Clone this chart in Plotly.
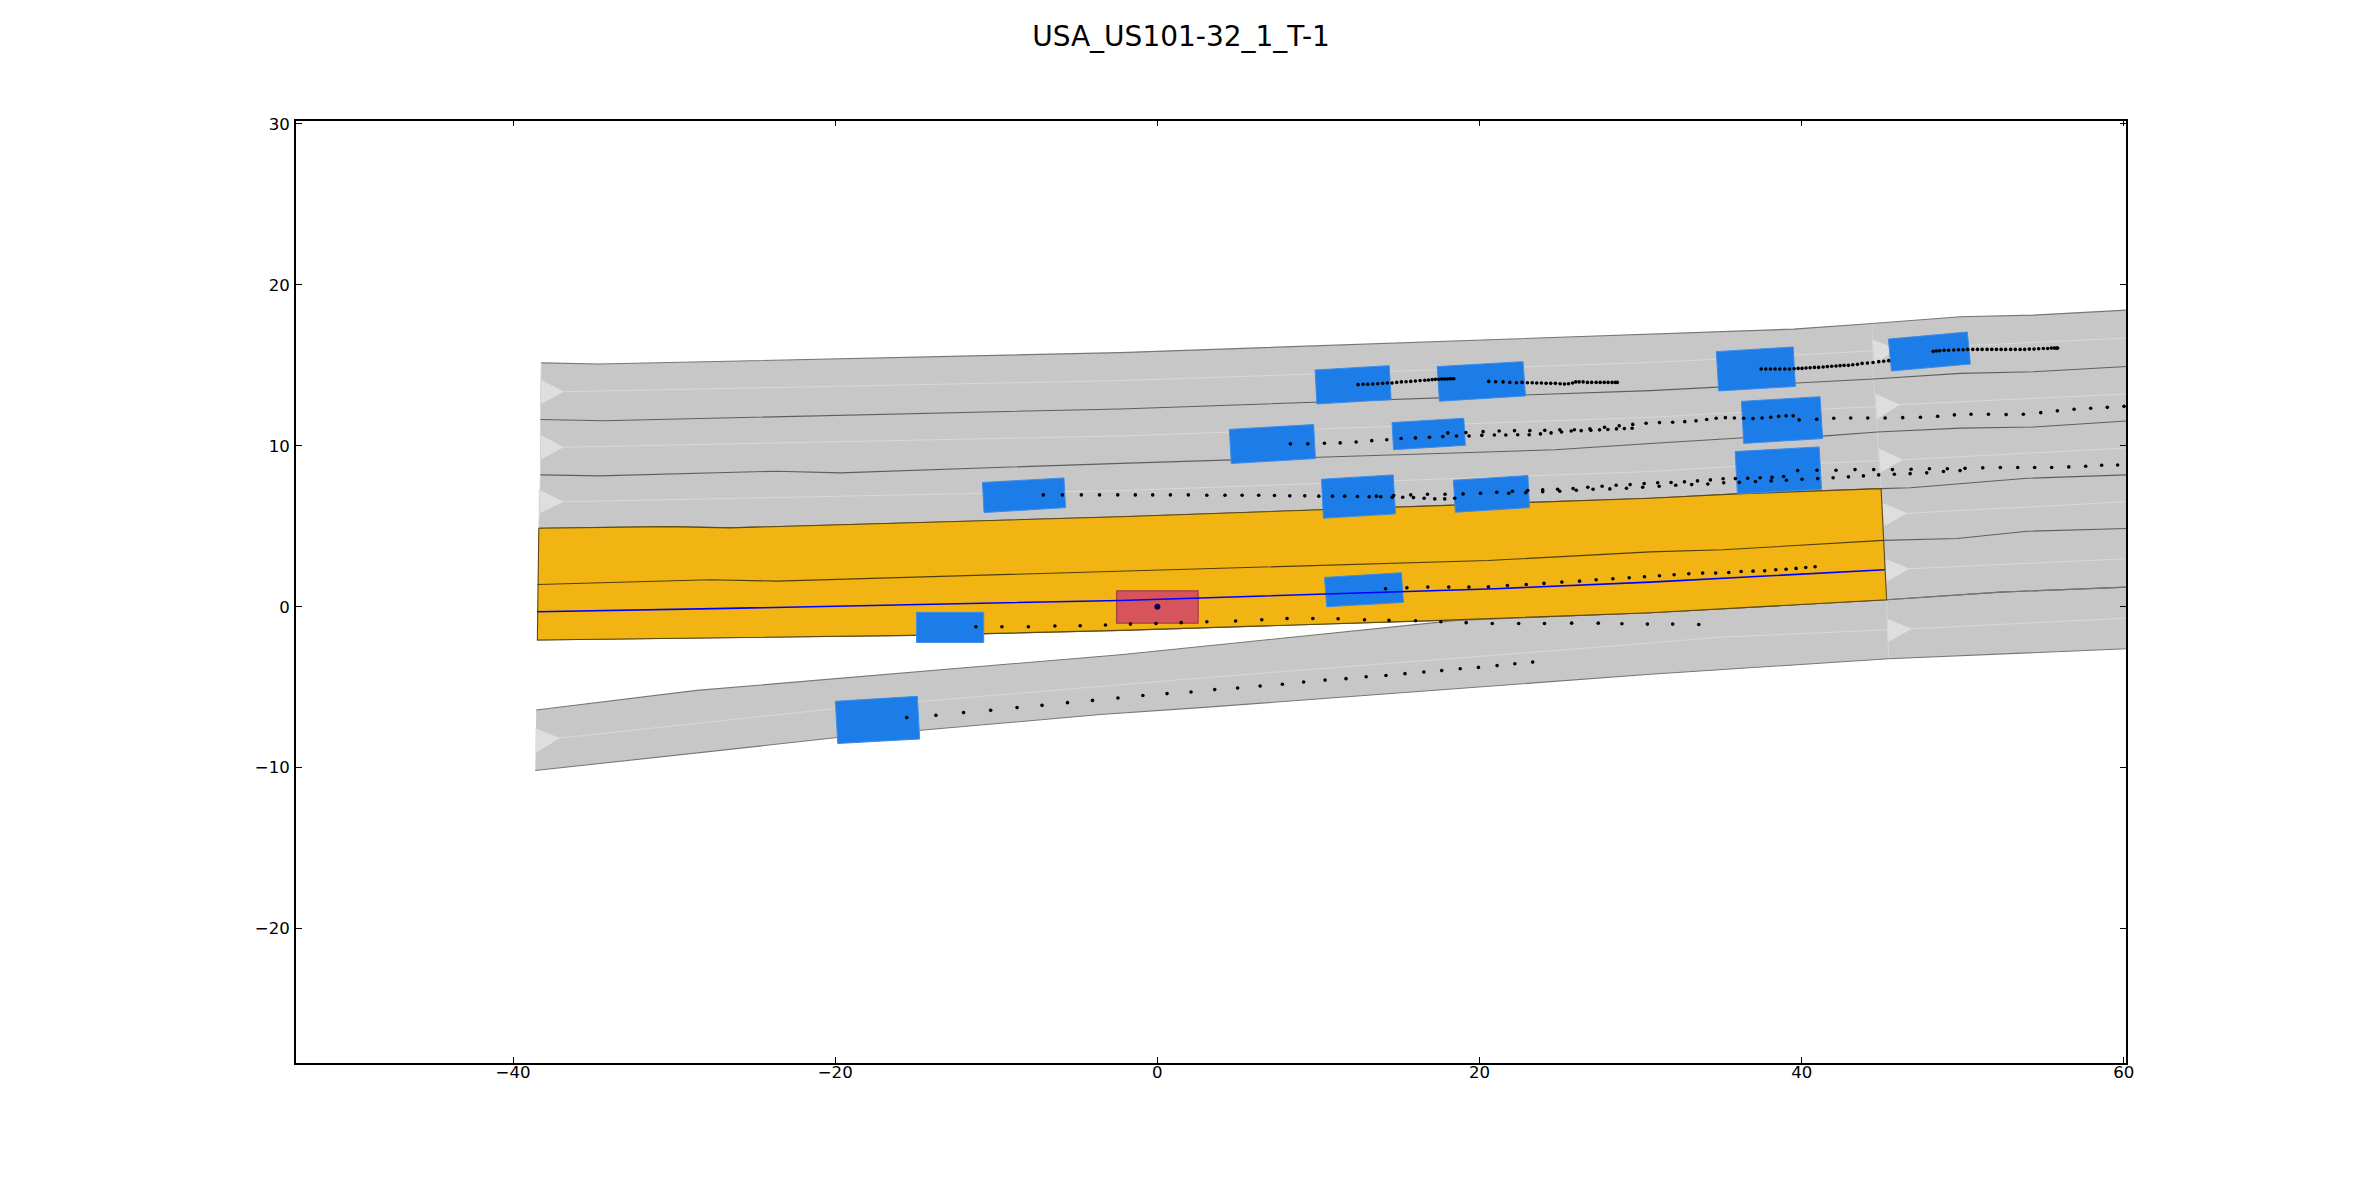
import plotly.graph_objects as go

TITLE = "USA_US101-32_1_T-1"
X_TICKS = [-40, -20, 0, 20, 40, 60]
Y_TICKS = [-20, -10, 0, 10, 20, 30]
X_RANGE = [-53.48, 60.14]
Y_RANGE = [-28.34, 30.21]

# lane boundaries, top to bottom
bound_1 = [(-38.25,15.15),(-34.64,15.08),(-2.29,15.79),(30.6,16.92),(39.5,17.25),(44.37,17.6),(49.85,18.02),(54.4,18.12),(60.17,18.43)]
bound_2 = [(-38.3,11.63),(-34.35,11.56),(-2.29,12.29),(30.6,13.43),(44.45,14.15),(49.85,14.5),(54.4,14.6),(60.17,14.93)]
bound_3 = [(-38.3,8.19),(-34.64,8.13),(-23.6,8.42),(-19.67,8.32),(-2.29,8.91),(24.69,9.75),(30.6,10.14),(36.4,10.5),(41.3,10.6),(44.7,10.86),(49.85,11.1),(54.4,11.17),(60.17,11.54)]
bound_4 = [(-38.4,4.88),(-30.47,4.98),(-26.55,4.9),(-2.29,5.59),(30.6,6.74),(36,7.01),(44.93,7.34),(46.75,7.39),(54,7.98),(60.17,8.19)]
bound_5 = [(-38.47,1.38),(-27.77,1.68),(-23.6,1.59),(-2.29,2.19),(20.52,2.87),(30.6,3.41),(35.1,3.54),(45.09,4.12),(49.65,4.24),(54,4.69),(60.17,4.86)]
bound_6 = [(-38.49,-2.07),(-15.25,-1.78),(-2.29,-1.47),(17.57,-0.85),(30.6,-0.37),(45.27,0.43),(52.33,0.91),(60.17,1.22)]
lower_top = [(-38.56,-6.42),(-28.6,-5.2),(-2.29,-2.98),(18.6,-0.85),(30.6,-0.37),(45.27,0.43),(52.33,0.91),(60.17,1.22)]
lower_bottom = [(-38.62,-10.18),(-19.86,-8.13),(-3.54,-6.7),(2.68,-6.27),(30.6,-4.2),(34.95,-3.91),(45.4,-3.23),(60.17,-2.61)]

# lane centre lines
centre_0 = [(-38.3,13.3),(-36.85,13.36),(-2.29,14.05),(30.6,15.18),(34.95,15.39),(44.37,15.91),(50.27,16.22),(60.17,16.7)]
centre_1 = [(-38.3,9.85),(-36.85,9.91),(-2.29,10.61),(30.6,11.77),(34.95,12.02),(44.7,12.43),(46.12,12.56),(60.17,13.22)]
centre_2 = [(-38.3,6.47),(-36.85,6.52),(-2.29,7.22),(30.6,8.4),(34.95,8.67),(46.3,9.13),(60.17,9.87)]
centre_3 = [(45.05,5.73),(46.55,5.81),(60.17,6.52)]
centre_4 = [(45.2,2.3),(46.69,2.36),(60.17,2.98)]
centre_5 = [(-38.6,-8.3),(-37.09,-8.16),(-20,-6.33),(2.68,-4.43),(30.6,-2.26),(34.95,-1.89),(46.85,-1.37),(60.17,-0.71)]
reference_path = [(-38.5,-0.31),(-27.5,-0.12),(-2.29,0.39),(21,1.12),(30.6,1.53),(35.8,1.8),(45.15,2.3)]

lane_end_right = [(44.37,17.6),(44.45,14.15),(44.7,10.86),(44.93,7.34),(45.09,4.12),(45.27,0.43),(45.4,-3.23)]
lane_end_left = [(-38.25,15.15),(-38.3,11.63),(-38.3,8.19),(-38.4,4.88)]

# direction arrows
arrows = [
    [(-38.3,14.13),(-38.3,12.58),(-36.85,13.36)],
    [(-38.3,10.68),(-38.3,9.14),(-36.85,9.91)],
    [(-38.4,7.28),(-38.4,5.77),(-36.85,6.52)],
    [(-38.6,-7.57),(-38.6,-9.09),(-37.09,-8.16)],
    [(44.41,16.61),(44.5,15.08),(45.92,16.0)],
    [(44.58,13.22),(44.68,11.67),(46.12,12.56)],
    [(44.74,9.85),(44.84,8.32),(46.3,9.13)],
    [(45.01,6.46),(45.09,4.98),(46.55,5.81)],
    [(45.18,2.98),(45.26,1.53),(46.69,2.36)],
    [(45.3,-0.75),(45.34,-2.23),(46.85,-1.37)],
]

# other vehicles
vehicles = [
    [(-19.99,-5.88),(-14.9,-5.57),(-14.76,-8.22),(-19.84,-8.5)],
    [(-14.95,-0.35),(-10.78,-0.35),(-10.78,-2.22),(-14.95,-2.22)],
    [(-10.86,7.72),(-5.8,8.0),(-5.7,6.16),(-10.76,5.85)],
    [(4.47,11.02),(9.7,11.32),(9.81,9.21),(4.59,8.9)],
    [(9.79,14.71),(14.39,14.98),(14.51,12.87),(9.9,12.6)],
    [(17.37,14.92),(22.7,15.23),(22.85,13.1),(17.51,12.77)],
    [(14.57,11.44),(19.02,11.71),(19.12,10.03),(14.66,9.76)],
    [(10.19,7.92),(14.64,8.19),(14.78,5.77),(10.31,5.5)],
    [(18.38,7.86),(23,8.15),(23.1,6.16),(18.5,5.87)],
    [(34.7,15.85),(39.47,16.14),(39.61,13.69),(34.85,13.41)],
    [(36.26,12.76),(41.14,13.05),(41.3,10.45),(36.4,10.15)],
    [(35.87,9.64),(41.08,9.93),(41.23,7.3),(36.01,7.01)],
    [(45.38,16.63),(50.28,17.07),(50.47,15.08),(45.57,14.65)],
    [(10.38,1.82),(15.15,2.11),(15.27,0.27),(10.51,0)],
]
ego_vehicle = [(-2.53,0.99),(2.53,0.99),(2.53,-1.02),(-2.53,-1.02)]
ego_centre = [(0,0)]

# predicted positions
pred_lower = [(-15.56,-6.89),(-13.75,-6.75),(-12.03,-6.58),(-10.35,-6.44),(-8.71,-6.27),(-7.16,-6.13),(-5.58,-5.96),(-4.03,-5.82),(-2.45,-5.67),(-0.9,-5.52),(0.6,-5.4),(2.09,-5.3),(3.56,-5.15),(4.98,-5.05),(6.38,-4.93),(7.76,-4.82),(9.08,-4.68),(10.41,-4.56),(11.71,-4.47),(12.96,-4.35),(14.19,-4.27),(15.37,-4.16),(16.54,-4.06),(17.65,-3.97),(18.8,-3.85),(19.93,-3.77),(21.09,-3.66),(22.19,-3.54),(23.3,-3.44)]
pred_merge = [(-11.27,-1.24),(-9.65,-1.24),(-8.01,-1.24),(-6.36,-1.2),(-4.79,-1.18),(-3.22,-1.14),(-1.67,-1.08),(-0.09,-1.04),(1.48,-0.99),(3.07,-0.93),(4.86,-0.89),(6.48,-0.81),(8.05,-0.73),(9.65,-0.73),(11.22,-0.75),(12.86,-0.81),(14.38,-0.85),(16.03,-0.87),(17.6,-0.93),(19.17,-0.99),(20.79,-1.04),(22.43,-1.04),(24.03,-1.04),(25.72,-1.02),(27.37,-1.02),(28.84,-1.06),(30.42,-1.08),(31.99,-1.08),(33.61,-1.1)]
pred_ahead = [(14.16,1.12),(15.49,1.18),(16.79,1.22),(18.09,1.22),(19.34,1.22),(20.55,1.24),(21.73,1.32),(22.9,1.38),(24,1.45),(25.11,1.53),(26.21,1.59),(27.24,1.68),(28.28,1.74),(29.29,1.8),(30.24,1.86),(31.17,1.92),(32.08,1.99),(32.99,2.05),(33.85,2.09),(34.66,2.09),(35.47,2.13),(36.24,2.19),(36.98,2.21),(37.7,2.23),(38.39,2.3),(39.03,2.33),(39.65,2.38),(40.25,2.44),(40.83,2.48)]
pred_lane2 = [(-7.08,6.95),(-5.9,6.95),(-4.72,6.95),(-3.59,6.95),(-2.46,6.95),(-1.37,6.95),(-0.29,6.95),(0.81,6.95),(1.92,6.95),(3.07,6.93),(4.2,6.93),(5.26,6.93),(6.29,6.93),(7.27,6.91),(8.22,6.89),(9.15,6.89),(10.02,6.87),(10.87,6.87),(11.63,6.87),(12.42,6.85),(13.15,6.83),(13.6,6.87),(13.87,6.83),(14.57,6.8),(14.67,6.91),(15.23,6.8),(15.73,6.95),(15.9,6.78),(16.56,6.74),(16.77,6.99),(17.22,6.7),(17.86,6.99),(17.84,6.7),(18.46,6.74),(18.98,7.01),(20.06,7.05),(21.07,7.11),(21.81,7.05),(22.04,7.18),(22.87,7.09),(22.99,7.22),(23.92,7.14),(23.92,7.26),(24.85,7.3),(24.98,7.18),(25.81,7.34),(26.01,7.24),(26.72,7.42),(27.05,7.3),(27.61,7.49),(28.09,7.32),(28.48,7.55),(29.12,7.36),(29.35,7.59),(30.13,7.42),(30.22,7.65),(31.06,7.7),(31.15,7.49),(31.89,7.72),(32.18,7.55),(32.72,7.76),(33.17,7.59),(33.53,7.82),(34.17,7.63),(34.33,7.88),(35.12,7.95),(35.16,7.7),(35.88,7.96),(36.13,7.73),(36.65,7.98),(37.13,7.78),(37.42,8.01),(38.1,7.82),(38.16,8.04),(38.88,8.09),(39.05,7.86),(39.75,8.46),(40.02,7.92),(40.95,8.48),(40.99,7.96),(41.95,8.01),(42.13,8.48),(42.9,8.07),(43.31,8.52),(43.83,8.13),(44.47,8.52),(44.78,8.19),(45.63,8.52),(45.75,8.23),(46.73,8.27),(46.79,8.54),(47.76,8.32),(47.93,8.57),(48.8,8.4),(49.04,8.57),(49.83,8.46),(50.14,8.6),(51.24,8.63),(52.33,8.65),(53.41,8.65),(54.46,8.65),(55.52,8.65),(56.58,8.69),(57.63,8.73),(58.62,8.79),(59.61,8.81)]
pred_lane1 = [(8.26,10.12),(9.34,10.12),(10.37,10.16),(11.35,10.18),(12.34,10.24),(13.31,10.32),(14.24,10.38),(15.13,10.45),(16.02,10.49),(16.89,10.53),(17.72,10.57),(18.03,10.8),(18.57,10.61),(19.15,10.82),(19.35,10.61),(20.14,10.65),(20.22,10.88),(20.92,10.67),(21.22,10.92),(21.63,10.67),(22.17,10.94),(22.37,10.69),(23.08,10.69),(23.12,10.94),(23.78,10.74),(24.05,10.96),(24.44,10.8),(24.98,10.99),(25.09,10.86),(25.69,10.92),(25.89,11.0),(26.31,10.94),(26.85,11.05),(26.91,10.96),(27.45,10.99),(27.76,11.15),(27.97,11.01),(28.5,11.05),(28.67,11.24),(28.99,11.07),(29.47,11.09),(29.51,11.33),(30.34,11.4),(31.17,11.44),(31.99,11.46),(32.74,11.5),(33.44,11.55),(34.1,11.63),(34.69,11.71),(35.26,11.75),(35.82,11.73),(36.4,11.71),(36.98,11.69),(37.54,11.73),(38.08,11.77),(38.57,11.83),(39.03,11.86),(39.47,11.86),(39.84,11.61),(40.93,11.65),(41.99,11.71),(43.04,11.73),(44.1,11.73),(45.18,11.73),(46.27,11.75),(47.37,11.77),(48.44,11.83),(49.48,11.92),(50.51,11.96),(51.59,11.96),(52.69,11.94),(53.76,11.96),(54.84,12.06),(55.87,12.17),(56.91,12.27),(57.94,12.33),(58.97,12.39),(60.01,12.45)]
pred_top_a = [(12.46,13.8),(12.77,13.82),(13.06,13.82),(13.37,13.84),(13.68,13.86),(13.99,13.88),(14.28,13.9),(14.57,13.9),(14.86,13.94),(15.15,13.97),(15.44,13.98),(15.73,14),(16.02,14.03),(16.31,14.05),(16.6,14.07),(16.83,14.09),(17.06,14.11),(17.26,14.13),(17.47,14.13),(17.65,14.15),(17.82,14.15),(17.99,14.15),(18.15,14.17),(18.27,14.17),(18.4,14.17)]
pred_top_b = [(20.57,14),(21,13.98),(21.46,13.97),(21.88,13.94),(22.29,13.92),(22.64,13.94),(22.97,13.92),(23.27,13.92),(23.55,13.9),(23.84,13.9),(24.13,13.88),(24.42,13.88),(24.71,13.88),(25,13.86),(25.27,13.84),(25.52,13.86),(25.77,13.9),(25.97,13.97),(26.18,13.97),(26.43,13.97),(26.7,13.94),(26.96,13.94),(27.24,13.94),(27.49,13.94),(27.74,13.94),(27.98,13.94),(28.23,13.94),(28.44,13.94),(28.55,13.94)]
pred_top_c = [(37.48,14.77),(37.77,14.77),(38.06,14.77),(38.35,14.77),(38.64,14.77),(38.95,14.77),(39.24,14.77),(39.53,14.79),(39.78,14.81),(40.02,14.81),(40.27,14.83),(40.52,14.85),(40.79,14.87),(41.05,14.87),(41.33,14.9),(41.59,14.92),(41.86,14.94),(42.13,14.96),(42.38,14.98),(42.63,15),(42.9,15),(43.17,15.04),(43.46,15.06),(43.75,15.12),(44.08,15.14),(44.43,15.18),(44.78,15.23),(45.09,15.25),(45.4,15.29)]
pred_top_d = [(48.16,15.87),(48.36,15.89),(48.57,15.91),(48.84,15.93),(49.12,15.93),(49.44,15.95),(49.73,15.97),(50.02,15.97),(50.3,15.99),(50.62,15.99),(50.91,15.99),(51.2,15.99),(51.51,15.99),(51.8,15.99),(52.09,15.99),(52.38,15.99),(52.66,15.99),(52.97,15.99),(53.26,15.99),(53.56,15.99),(53.84,15.99),(54.13,16.01),(54.42,16.01),(54.71,16.03),(55,16.05),(55.27,16.05),(55.5,16.07),(55.69,16.07),(55.81,16.07),(55.89,16.07)]

GRAY = "#c7c7c7"
YELLOW = "#f1b412"
BLUE = "#1c7ce8"
RED = "#d8545c"


def xs(p):
    return [a for a, _ in p]


def ys(p):
    return [b for _, b in p]


fig = go.Figure()


def poly(points, fill, line=None, width=0):
    closed = list(points) + [points[0]]
    fig.add_trace(go.Scatter(
        x=xs(closed), y=ys(closed), mode="lines", fill="toself", fillcolor=fill,
        line=dict(color=line or fill, width=width), hoverinfo="skip", showlegend=False))


def path(points, color, width):
    fig.add_trace(go.Scatter(
        x=xs(points), y=ys(points), mode="lines",
        line=dict(color=color, width=width), hoverinfo="skip", showlegend=False))


def band(upper, lower):
    return list(upper) + list(reversed(lower))


# road surface
for up, low in [(bound_1, bound_2), (bound_2, bound_3), (bound_3, bound_4),
                (bound_4, bound_5), (bound_5, bound_6), (lower_top, lower_bottom)]:
    poly(band(up, low), GRAY)

for c in [centre_0, centre_1, centre_2, centre_3, centre_4, centre_5]:
    path(c, "#d8d8d8", 1)
for a in arrows:
    poly(a, "#dedede")
path(lane_end_right, "#d4d4d4", 1)
path(lane_end_left, "#d4d4d4", 1)

path(bound_1, "#777777", 1.1)
for b in [bound_2, bound_3, bound_4, bound_5, bound_6]:
    path(b, "#5e5e5e", 1.1)
path(lower_top, "#777777", 1.1)
path(lower_bottom, "#777777", 1.1)

# goal region
END = 45.3
top = [p for p in bound_4 if p[0] < END]
mid = [p for p in bound_5 if p[0] < END]
low = [p for p in bound_6 if p[0] < END]
poly(band(top, low), YELLOW, "#5c4a10", 1.1)
path(mid, "#4f3f0c", 1.1)

for v in vehicles:
    poly(v, BLUE, "#3b8ce6", 1)
poly(ego_vehicle, RED, "#a63c3c", 1.2)
path(reference_path, "#0000ff", 1.6)

for d in [pred_lower, pred_merge, pred_ahead, pred_lane2, pred_lane1,
          pred_top_a, pred_top_b, pred_top_c, pred_top_d]:
    fig.add_trace(go.Scatter(
        x=xs(d), y=ys(d), mode="markers",
        marker=dict(color="#000000", size=3.6, line=dict(width=0)),
        hoverinfo="skip", showlegend=False))
fig.add_trace(go.Scatter(
    x=xs(ego_centre), y=ys(ego_centre), mode="markers",
    marker=dict(color="#05054a", size=6, line=dict(width=0)),
    hoverinfo="skip", showlegend=False))

axis_style = dict(
    showgrid=False, zeroline=False, showline=True, linecolor="#000000", linewidth=1.5,
    mirror="allticks", ticks="inside", ticklen=6, tickwidth=0.8, tickcolor="#000000",
    tickfont=dict(family="DejaVu Sans", size=16.6, color="#000000"),
)
fig.update_layout(
    width=2362, height=1181, autosize=False,
    margin=dict(l=0, r=0, t=0, b=0),
    paper_bgcolor="#ffffff", plot_bgcolor="#ffffff", showlegend=False,
    title=dict(text=TITLE, x=0.5, xanchor="center", y=1 - 36 / 1181, yref="container",
               yanchor="middle", font=dict(family="DejaVu Sans", size=28, color="#000000")),
    xaxis=dict(domain=[0.1257, 0.9032], range=X_RANGE, tickmode="array", tickvals=X_TICKS,
               ticklabelstandoff=-6, **axis_style),
    yaxis=dict(domain=[0.1006, 0.9025], range=Y_RANGE, tickmode="array", tickvals=Y_TICKS,
               ticklabelstandoff=1, **axis_style),
)
fig.update_layout(title_xref="container")
fig.write_html("out.html", config={"displayModeBar": False},
               post_script="document.body.style.margin='0';document.body.style.overflow='hidden';")
